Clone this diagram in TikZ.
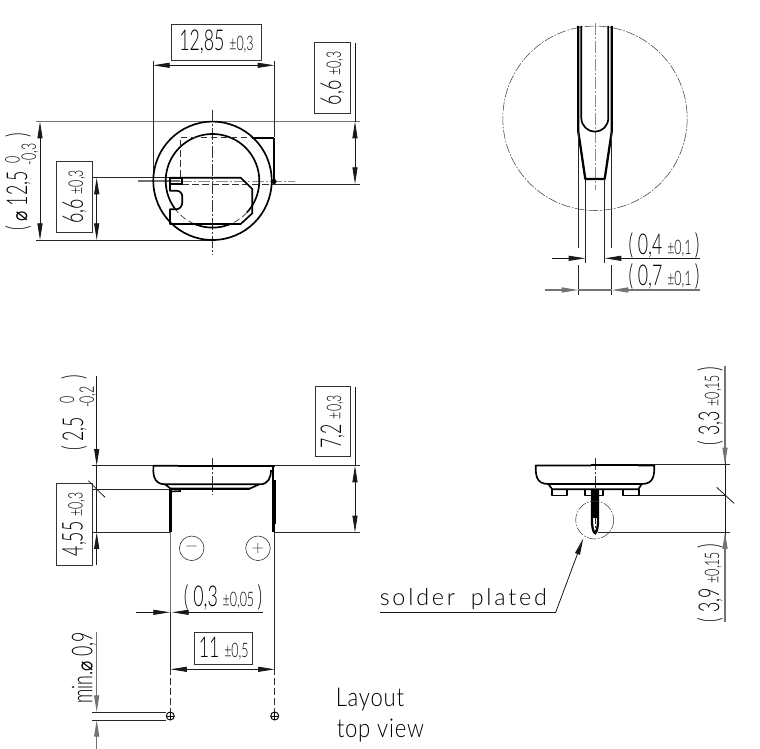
\documentclass[tikz,border=0pt]{standalone}
\usepackage{fontspec}
\usetikzlibrary{arrows.meta}
\newfontfamily\dimf[FakeStretch=0.62]{Lato Light}
\newfontfamily\labf[LetterSpace=12]{Lato Light}
\newfontfamily\layf[FakeStretch=0.85,LetterSpace=3]{Lato Light}
\newfontfamily\symf[FakeStretch=0.8]{DejaVu Sans}
\newcommand{\bigt}{\fontsize{21.5}{22}\selectfont\dimf}
\newcommand{\smt}{\fontsize{15}{16}\selectfont\dimf}
\tikzset{
  thin line/.style={line width=0.6pt,draw=black!90},
  ext line/.style={line width=0.55pt,draw=black!85},
  grey line/.style={line width=0.8pt,draw=black!55},
  heavy/.style={line width=1.7pt,draw=black,line join=round},
  medium/.style={line width=1.25pt,draw=black,line join=round},
  ctr/.style={line width=0.5pt,draw=black!80,dash pattern=on 9pt off 1.5pt on 1.5pt off 1.5pt},
  ctrgrey/.style={line width=0.7pt,draw=black!45,dash pattern=on 9pt off 1.5pt on 1.5pt off 1.5pt},
  hidden/.style={line width=0.5pt,draw=black!80,dash pattern=on 5pt off 2.5pt},
  detail/.style={line width=0.4pt,draw=black!75,dash pattern=on 7pt off 1.2pt on 1.2pt off 1.2pt},
  dimtip/.style={-{Triangle[length=12.5pt,width=3.8pt]}},
  dimboth/.style={{Triangle[length=12.5pt,width=3.8pt]}-{Triangle[length=12.5pt,width=3.8pt]}},
  dimbox/.style={draw=black!80,line width=0.6pt,inner sep=0pt,anchor=center},
  txt/.style={inner sep=0pt,anchor=center,text=black},
}
\begin{document}
\begin{tikzpicture}[x=0.75pt,y=-0.75pt]
\useasboundingbox (0,0) rectangle (760,749);
\fill[white] (0,0) rectangle (760,749);

% ===== top view =====
\draw[grey line] (36,121.7) -- (360,121.7);
\draw[ext line] (36,240) -- (213,240);
\draw[ext line] (272,184) -- (360,184);
\draw[ext line] (92,177.7) -- (170,177.7);
\draw[ext line] (153,60.7) -- (153,181);
\draw[ext line] (274.3,60.7) -- (274.3,137);
\draw[ctr] (212.5,110) -- (212.5,255);
\draw[grey line] (138,181) -- (180,181);
\draw[ctrgrey] (180,181) -- (295,181);
\draw[medium] (212.5,180.8) circle[radius=59.2];
\draw[medium,domain=143.2:402.5,samples=70] plot ({212.5+46.8*cos(\x)},{180.8+46.8*sin(\x)});
\draw[medium,domain=67.4:112.6,samples=15] plot ({212.5+46.8*cos(\x)},{180.8+46.8*sin(\x)});
\draw[hidden,domain=42.5:67.4,samples=10] plot ({212.5+46.8*cos(\x)},{180.8+46.8*sin(\x)});
\draw[hidden,domain=112.6:143.2,samples=10] plot ({212.5+46.8*cos(\x)},{180.8+46.8*sin(\x)});
\draw[hidden] (180,177) -- (180,137.7) -- (252,137.7);
\draw[hidden] (182,184) -- (272,184);
\draw[medium] (252,137.7) -- (274.3,137.7);
\draw[heavy] (274.3,137.7) -- (274.3,180);
\fill (274,181.5) circle[radius=2.6];
\draw[medium] (170,177.7) -- (240.7,177.7) -- (252.3,189) -- (252.3,213.3) -- (240.7,224) -- (170,224) -- (170,209.3)
  -- (176,209.3) .. controls (180,209.3) and (182.3,206) .. (182.3,202) -- (182.3,197)
  .. controls (182.3,193) and (180,190.7) .. (176,190.7) -- (170,190.7) -- cycle;
\draw[line width=0.9pt] (170,178.5) rectangle (182,184);

% dimension 12,85
\draw[thin line,dimboth] (153,65.3) -- (274.3,65.3);
\node[dimbox,minimum width=67.2pt,minimum height=27pt] (d1285) at (216.5,42.7) {};
\node[txt] (t1285) at (216.5,42.3) {\bigt 12,85 \smt ±0,3};
% dimension 6,6 right
\draw[thin line] (355,43) -- (355,121.7);
\draw[thin line,dimboth] (355,121.7) -- (355,184);
\node[dimbox,minimum width=27pt,minimum height=53.2pt] (d66r) at (332.5,78.2) {};
\node[txt,rotate=90] (t66r) at (332.5,78.2) {\bigt 6,6 \smt ±0,3};
% dimension 6,6 left
\draw[thin line,dimboth] (96.7,177.7) -- (96.7,240);
\node[dimbox,minimum width=26.7pt,minimum height=53.2pt] (d66l) at (74.5,196.8) {};
\node[txt,rotate=90] (t66l) at (74.5,196.8) {\bigt 6,6 \smt ±0,3};
% dimension dia 12,5
\draw[thin line,dimboth] (40,121.7) -- (40,240);
\node[txt,rotate=90,anchor=base west] (t125) at (27,231) {\bigt (\,{\symf\fontsize{16}{16}\selectfont ⌀} 12,5};
\node[txt,rotate=90] (t125a) at (12.5,160) {\smt 0};
\node[txt,rotate=90] (t125b) at (30,154.5) {\smt -0,3};
\node[txt,rotate=90,anchor=base] (t125c) at (27,135) {\bigt )};

% ===== detail =====
\draw[detail] (595,118.3) circle[radius=92.2];
\draw[ctrgrey] (595,22.7) -- (595,190);
\draw[heavy] (578.3,26) -- (578.3,131.7) -- (585.3,179) -- (604.7,179) -- (611.7,131.7) -- (611.7,26);
\draw[medium] (581.3,26) -- (581.3,118) .. controls (581.3,126) and (588,131.7) .. (595,131.7)
  .. controls (602,131.7) and (608.3,126) .. (608.3,118) -- (608.3,26);
\draw[ext line] (578.3,131.7) -- (578.3,248) (578.3,265) -- (578.3,295);
\draw[ext line] (611.7,131.7) -- (611.7,248) (611.7,265) -- (611.7,295);
\draw[ext line] (585.3,179) -- (585.3,263);
\draw[ext line] (604.7,179) -- (604.7,263);
\draw[thin line,dimtip] (552.3,258.3) -- (585.3,258.3);
\draw[thin line,dimtip] (700,258.3) -- (604.7,258.3);
\draw[grey line] (578.3,290) -- (611.7,290);
\draw[grey line,dimtip] (545,290) -- (578.3,290);
\draw[grey line,dimtip] (700,290) -- (611.7,290);
\node[txt] (t04) at (664,245) {\bigt ( 0,4 \smt ±0,1 \bigt )};
\node[txt] (t07) at (664,276.5) {\bigt ( 0,7 \smt ±0,1 \bigt )};

% ===== front view =====
\draw[ext line] (92,465.7) -- (153,465.7);
\draw[ext line] (275,465.7) -- (360,465.7);
\draw[ext line] (92,489.3) -- (170,489.3);
\draw[ext line] (92,532.3) -- (170,532.3);
\draw[ext line] (275,532.3) -- (360,532.3);
\draw[ctr] (212.3,458) -- (212.3,495);
\draw[medium] (178,465.7) -- (153.5,465.7) .. controls (153,472) and (152.5,484.3) .. (165,484.3)
  -- (260,484.3) .. controls (268,484.3) and (271,478) .. (271,470);
\draw[heavy] (178.3,465.7) -- (274.5,465.7);
\draw[medium] (165,484.3) -- (170.5,488.5) -- (250,488.5) -- (259.3,484.3);
\draw[heavy] (171,489.3) -- (250,489.3);
\draw[line width=2.2pt] (170.5,489) -- (170.5,532);
\draw[medium] (273.3,466) -- (273.3,532);
\draw[line width=2pt] (274.6,480) -- (274.6,524) (273.6,524) -- (273.6,532);
\draw[medium] (171,491.5) -- (181,491);
% pin lines downwards
\draw[grey line] (170.3,532) -- (170.3,612);
\draw[ext line] (170.3,612) -- (170.3,668);
\draw[hidden] (170.3,668) -- (170.3,712);
\draw[ext line] (274.7,532) -- (274.7,668);
\draw[hidden] (274.7,668) -- (274.7,712);
% polarity
\node[circle,draw=black!80,line width=0.45pt,minimum size=18.4pt,inner sep=0pt,text=black!80] (minus) at (191.7,548.3) {\fontsize{12}{12}\selectfont −};
\node[circle,draw=black!80,line width=0.45pt,minimum size=18.4pt,inner sep=0pt,text=black!80] (plus) at (258,548.3) {\fontsize{12}{12}\selectfont +};
% 2,5 and 4,55
\draw[thin line,dimtip] (96.7,376) -- (96.7,465.7);
\draw[thin line] (96.7,465.7) -- (96.7,489.3);
\draw[thin line,dimtip] (96.7,565) -- (96.7,532.3);
\draw[thin line] (96.7,532.3) -- (96.7,489.3);
\draw[thin line] (88.3,480.7) -- (105,497.3);
\node[txt,rotate=90,anchor=base west] (t25) at (83,451) {\bigt (\,2,5};
\node[txt,rotate=90] (t25a) at (67,400) {\smt 0};
\node[txt,rotate=90] (t25b) at (88,397) {\smt -0,2};
\node[txt,rotate=90,anchor=base] (t25c) at (83,377) {\bigt )};
\node[dimbox,minimum width=26.7pt,minimum height=61.5pt] (d455) at (74.2,524.3) {};
\node[txt,rotate=90] (t455) at (74.2,524.3) {\bigt 4,55 \smt ±0,3};
% 7,2
\draw[thin line,dimboth] (355,465.7) -- (355,532.3);
\draw[thin line] (355,386.7) -- (355,465.7);
\node[dimbox,minimum width=26.5pt,minimum height=52.5pt] (d72) at (332.7,421.7) {};
\node[txt,rotate=90] (t72) at (332.7,421.7) {\bigt 7,2 \smt ±0,3};
% 0,3
\draw[thin line,dimtip] (136,612.3) -- (170,612.3);
\draw[thin line,dimtip] (263,612.3) -- (172,612.3);
\node[txt] (t03) at (223,597.5) {\bigt ( 0,3 \smt ±0,05 \bigt )};
% 11
\draw[thin line,dimboth] (170.3,669.3) -- (274.7,669.3);
\node[dimbox,minimum width=43.5pt,minimum height=24.3pt] (d11) at (223.7,648.5) {};
\node[txt] (t11) at (223.7,648.5) {\bigt 11 \smt ±0,5};
% layout holes
\node[circle,draw=black,line width=0.7pt,minimum size=6pt,inner sep=0pt] (h1) at (170.3,716) {};
\node[circle,draw=black,line width=0.7pt,minimum size=6pt,inner sep=0pt] (h2) at (274.7,716) {};
\draw[line width=0.5pt] (166.3,716) -- (174.3,716) (170.3,712) -- (170.3,720);
\draw[line width=0.5pt] (270.7,716) -- (278.7,716) (274.7,712) -- (274.7,720);
\draw[ext line] (92,712) -- (166,712);
\draw[ext line] (92,720) -- (166,720);
\draw[grey line,dimtip] (96.7,631.7) -- (96.7,712);
\draw[grey line,dimtip] (96.7,749) -- (96.7,720);
\node[txt,rotate=90] (tmin) at (84,668) {\bigt min.{\symf\fontsize{16}{16}\selectfont ⌀}\,0,9};

\node[txt,anchor=base west] (tlay) at (335.5,706.7) {\fontsize{19.5}{20}\selectfont\layf Layout};
\node[txt,anchor=base west] (ttop) at (336.5,737.7) {\fontsize{19.5}{20}\selectfont\layf top view};

% ===== side view =====
\draw[ext line] (638,464.3) -- (730,464.3);
\draw[ext line] (638.7,495.3) -- (725,495.3);
\draw[ext line] (598,532.3) -- (730,532.3);
\draw[ctr] (595,458) -- (595,535);
\draw[medium] (591,465.5) -- (535.7,465.5) .. controls (535.7,475) and (536,484) .. (548.3,484) -- (641.7,484)
  .. controls (654,484) and (654.3,475) .. (654.3,465.5) -- (638,465.5);
\draw[heavy] (591,465) -- (638.3,465);
\draw[medium] (548.3,484) -- (552.3,489.3) -- (638.3,489.3) -- (641.7,484);
\draw[medium] (551.7,489.5) rectangle (566.7,495.5);
\draw[medium] (585,489.5) rectangle (603.3,495.5);
\draw[medium] (622.7,489.5) rectangle (638.7,495.5);
\fill[white] (591.5,489) rectangle (598.5,497);
\draw[heavy] (592,489) -- (592,523) .. controls (592.5,530) and (594,533) .. (595,533) .. controls (596,533) and (597.5,530) .. (598,523) -- (598,489);
\fill (592,489) rectangle (596.5,518);
\draw[detail] (594.7,520) circle[radius=19];
\draw[thin line] (725,366) -- (725,464.3) (725,464.3) -- (725,532.3) (725,532.3) -- (725,622);
\draw[thin line] (716.7,487.3) -- (734,503.3);
\draw[grey line,dimtip] (725,366) -- (725,464.3);
\draw[grey line,dimtip] (725,622) -- (725,532.3);
\node[txt,rotate=90] (t33) at (710,406) {\bigt ( 3,3 \smt ±0,15 \bigt )};
\node[txt,rotate=90] (t39) at (710,583) {\bigt ( 3,9 \smt ±0,15 \bigt )};
\coordinate (leadstart) at (380,612.3);
\coordinate (leadknee) at (555.7,612.3);
\coordinate (leadtip) at (583.3,538.3);
\draw[thin line] (leadstart) -- (leadknee);
\draw[thin line,dimtip] (leadknee) -- (leadtip);
\node[txt,anchor=base west] (tsol) at (379.5,605) {\fontsize{17.5}{18}\selectfont\labf solder\; plated};
\end{tikzpicture}
\end{document}
